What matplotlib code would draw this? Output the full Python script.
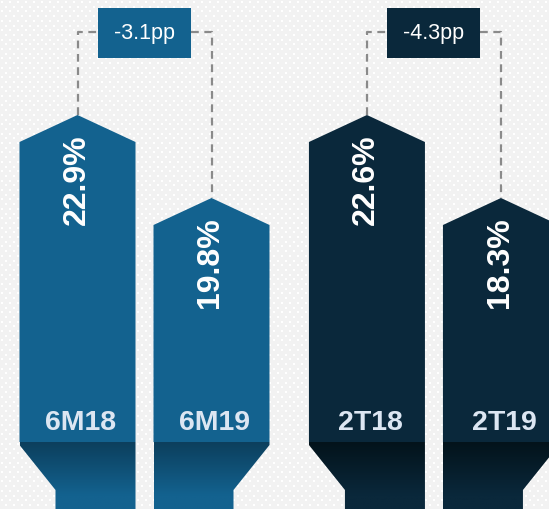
import numpy as np
import matplotlib
matplotlib.use("Agg")
import matplotlib.pyplot as plt
from matplotlib.patches import Polygon, Rectangle
from matplotlib.colors import LinearSegmentedColormap

# ---------------- data ----------------
groups = ["semester", "quarter"]
categories = [["6M18", "6M19"], ["2T18", "2T19"]]
values = [[22.9, 19.8], [22.6, 18.3]]
value_labels = [["22.9%", "19.8%"], ["22.6%", "18.3%"]]
delta_labels = ["-3.1pp", "-4.3pp"]

# ---------------- style ----------------
W, H = 549, 509
DPI = 100
bg = "#f2f2f2"
group_colors = ["#13628f", "#0a283b"]
funnel_dark = ["#0c3f5d", "#03131b"]
cat_color = "#dce6f2"

fig = plt.figure(figsize=(W / DPI, H / DPI), dpi=DPI, facecolor=bg)

# background dot pattern (pixel coordinates)
axbg = fig.add_axes([0, 0, 1, 1])
axbg.set_xlim(0, W)
axbg.set_ylim(H, 0)
axbg.axis("off")
pts = []
for r, yy in enumerate(np.arange(2, H, 4.7)):
    off = 0 if r % 2 == 0 else 4
    for xx in np.arange(2 + off, W, 8):
        pts.append((xx, yy))
pts = np.array(pts)
axbg.scatter(pts[:, 0], pts[:, 1], s=2.2, marker="s", color="white", linewidths=0, zorder=0)

# x layout in category units (1 unit = step between bars inside a group)
px_per_unit = 134.0
x_first = 77.5
group_gap = 2.16
bar_w = 116 / px_per_unit
neck = 36 / px_per_unit
xlim = (-x_first / px_per_unit, (W - x_first) / px_per_unit)

# vertical anchor fractions (figure fraction) for the top and bottom values of each group
f_hi = 1 - 115 / H
f_lo = 1 - 198 / H


def frac(p):
    return 1 - p / H


for g in range(len(groups)):
    vals = values[g]
    vmax, vmin = max(vals), min(vals)
    span = (vmax - vmin) / (f_hi - f_lo)
    lo = vmax - f_hi * span
    hi = lo + span
    ax = fig.add_axes([0, 0, 1, 1])
    ax.set_xlim(*xlim)
    ax.set_ylim(lo, hi)
    ax.patch.set_alpha(0)
    ax.axis("off")

    def Y(p):
        return lo + frac(p) * span

    def dy(pixels):
        return pixels / H * span

    color = group_colors[g]
    cmap = LinearSegmentedColormap.from_list("f", [funnel_dark[g], color])
    centers = []
    for j, v in enumerate(vals):
        xc = g * group_gap + j
        centers.append(xc)
        xl, xr = xc - bar_w / 2, xc + bar_w / 2
        body_bottom = Y(442)
        shoulder = v - dy(27)
        body = Polygon([(xl, body_bottom), (xl, shoulder), (xc, v), (xr, shoulder), (xr, body_bottom)],
                       closed=True, facecolor=color, edgecolor="none", zorder=2)
        ax.add_patch(body)
        # funnel
        d0, d1 = Y(445), Y(490)
        if j == 0:
            verts = [(xl, body_bottom), (xr, body_bottom), (xr, lo), (xl + neck, lo), (xl + neck, d1), (xl, d0)]
        else:
            verts = [(xl, body_bottom), (xr, body_bottom), (xr, d0), (xr - neck, d1), (xr - neck, lo), (xl, lo)]
        funnel = Polygon(verts, closed=True, facecolor="none", edgecolor="none", zorder=2)
        ax.add_patch(funnel)
        grad = np.linspace(0, 1, 100).reshape(-1, 1)
        grad = np.clip(grad * 1.25, 0, 1)
        im = ax.imshow(grad, extent=(xl, xr, lo, body_bottom), origin="upper", cmap=cmap,
                       aspect="auto", zorder=2, interpolation="bilinear")
        im.set_clip_path(funnel)
        # value label
        ax.text(xc - 1 / px_per_unit, v - dy(19), value_labels[g][j], rotation=90, ha="center", va="top",
                color="white", fontsize=23, fontweight="bold", family="Liberation Sans", zorder=4)
        # category label
        ax.text(xc + 3 / px_per_unit, Y(423), categories[g][j], ha="center", va="center",
                color=cat_color, fontsize=20.5, fontweight="bold", family="Liberation Sans", zorder=4)

    # connector and delta box
    ytop = Y(32)
    bx_c = (centers[0] + centers[1]) / 2
    bx_w = 93 / px_per_unit
    ls = dict(color="#8a8a8a", lw=1.6, ls=(0, (3.5, 2.5)), zorder=1)
    ax.plot([centers[0], centers[0], bx_c - bx_w / 2], [vals[0], ytop, ytop], **ls)
    ax.plot([bx_c + bx_w / 2, centers[1], centers[1]], [ytop, ytop, vals[1]], **ls)
    ax.add_patch(Rectangle((bx_c - bx_w / 2, Y(58)), bx_w, Y(8) - Y(58), facecolor=color,
                           edgecolor="none", zorder=3))
    ax.text(bx_c, Y(34), delta_labels[g], ha="center", va="center", color="white",
            fontsize=15.5, family="Liberation Sans", zorder=4)

fig.savefig("out.png", dpi=DPI, facecolor=bg)
